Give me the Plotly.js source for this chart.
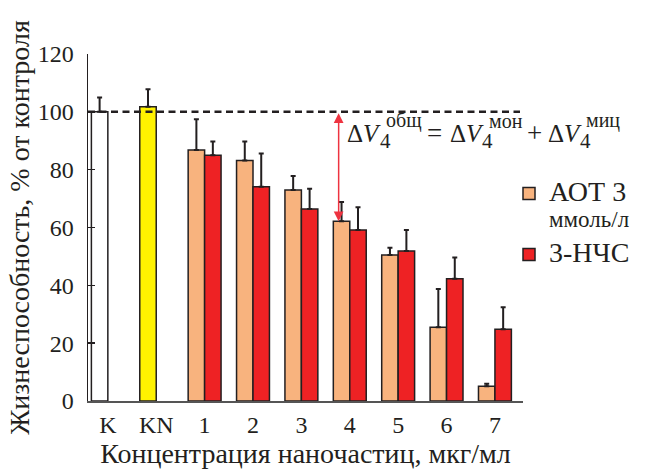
<!DOCTYPE html>
<html>
<head>
<meta charset="utf-8">
<script src="https://cdn.plot.ly/plotly-3.0.1.min.js"></script>
<style>html,body{margin:0;padding:0;background:#fff;}</style>
</head>
<body>
<div id="chart" style="width:649px;height:469px;"></div>
<script>
// ---- data ----
const categories = ['K', 'KN', '1', '2', '3', '4', '5', '6', '7'];
const controlCats = ['K', 'KN'];
const controlValues = [100, 101.8];
const controlErrors = [5, 6];
const concCats = ['1', '2', '3', '4', '5', '6', '7'];
const aotValues = [86.8, 83.2, 73.0, 62.2, 50.5, 25.5, 5.1];
const aotErrors = [10.6, 6.5, 4.8, 6.6, 2.5, 13.2, 0.9];
const nchsValues = [85.0, 74.1, 66.4, 59.1, 51.9, 42.3, 24.8];
const nchsErrors = [4.7, 11.5, 7.0, 7.9, 7.2, 7.3, 7.6];
const yTicks = [0, 20, 40, 60, 80, 100, 120];
const referenceLevel = 100;
const arrowCategoryIndex = 5; // concentration "4"

const FONT = 'Liberation Serif';
const TXT = '#231F20';
const zeros = a => a.map(() => 0);

const errStyle = (arr) => ({
  type: 'data', symmetric: false, array: arr, arrayminus: zeros(arr),
  color: '#231F20', thickness: 2, width: 2.5
});

const traces = [
  {
    type: 'bar', x: controlCats, y: controlValues, offsetgroup: 'a',
    marker: {color: ['#FFFFFF', '#FFF200'], line: {color: '#231F20', width: 1.5}},
    error_y: errStyle(controlErrors), showlegend: false, name: 'control'
  },
  {
    type: 'bar', x: concCats, y: aotValues, offsetgroup: 'a', legendgroup: 'g1',
    name: '<span style="font-size:28px">АОТ 3</span><br><span style="font-size:23px">ммоль/л</span>',
    marker: {color: '#F8B37E', line: {color: '#231F20', width: 1.5}},
    error_y: errStyle(aotErrors)
  },
  {
    type: 'bar', x: concCats, y: nchsValues, offsetgroup: 'b', legendgroup: 'g2',
    name: '<span style="font-size:28px">3-НЧС</span>',
    marker: {color: '#EE2224', line: {color: '#231F20', width: 1.5}},
    error_y: errStyle(nchsErrors)
  }
];

// plot-area pixel helpers (paper coords) for text placement
const L = 88, R = 126, T = 54, B = 68, W = 649, H = 469;
const pw = W - L - R, ph = H - T - B;
const px = v => (v - L) / pw;
const py = v => (H - B - v) / ph;

const txt = (text, x, y, size) => ({
  xref: 'paper', yref: 'paper', x: px(x), y: py(y), xanchor: 'left', yanchor: 'middle',
  showarrow: false, text: text, font: {family: FONT, size: size, color: TXT}
});

const layout = {
  width: W, height: H,
  margin: {l: L, r: R, t: T, b: B},
  paper_bgcolor: '#fff', plot_bgcolor: '#fff',
  barmode: 'group', bargap: 0.32, bargroupgap: 0,
  font: {family: FONT, size: 24, color: TXT},
  xaxis: {
    type: 'category', categoryorder: 'array', categoryarray: categories,
    range: [-0.41, 8.58], showline: true, linecolor: '#555', linewidth: 1.5,
    ticks: '', showgrid: false, zeroline: false,
    tickfont: {family: FONT, size: 24, color: TXT},
    ticklabelstandoff: 2,
    title: {text: 'Концентрация наночастиц, мкг/мл', font: {family: FONT, size: 28, color: TXT}, standoff: 0}
  },
  yaxis: {
    range: [0, 120], tickvals: yTicks, ticktext: yTicks.map(String),
    showline: true, linecolor: '#231F20', linewidth: 1.5,
    ticks: 'inside', ticklen: 7, tickwidth: 1.5, tickcolor: '#231F20',
    showgrid: false, zeroline: false,
    tickfont: {family: FONT, size: 24, color: TXT},
    ticklabelstandoff: 8,
    title: {text: 'Жизнеспособность, % от контроля', font: {family: FONT, size: 28, color: TXT}, standoff: 0}
  },
  legend: {
    x: px(509), xanchor: 'left', y: py(174), yanchor: 'top',
    font: {family: FONT, size: 20, color: TXT},
    bgcolor: 'rgba(0,0,0,0)', itemwidth: 30, tracegroupgap: 6,
    traceorder: 'grouped', valign: 'top'
  },
  shapes: [
    {type: 'line', xref: 'paper', x0: 0, x1: px(520), yref: 'y', y0: referenceLevel, y1: referenceLevel,
     line: {color: '#231F20', width: 2.5, dash: '7px,4.5px'}}
  ],
  annotations: [
    {xref: 'x', yref: 'y', axref: 'x', ayref: 'y',
     x: arrowCategoryIndex - 0.23, y: aotValues[3], ax: arrowCategoryIndex - 0.23, ay: referenceLevel,
     text: '', showarrow: true, arrowside: 'end+start', arrowhead: 2, startarrowhead: 2,
     arrowsize: 1.3, startarrowsize: 1.3, arrowwidth: 1.5, arrowcolor: '#EE3340', standoff: 0, startstandoff: 0},
    txt('Δ<i>V</i>', 345, 133, 25), txt('общ', 384, 121, 20), txt('4', 378, 141, 21),
    txt('=', 425, 133, 27),
    txt('Δ<i>V</i>', 448, 133, 25), txt('мон', 487, 121, 20), txt('4', 480, 141, 21),
    txt('+', 525, 133, 27),
    txt('Δ<i>V</i>', 546, 133, 25), txt('миц', 584, 121, 20), txt('4', 578, 141, 21)
  ]
};

Plotly.newPlot('chart', traces, layout, {displayModeBar: false, staticPlot: true});
</script>
</body>
</html>
